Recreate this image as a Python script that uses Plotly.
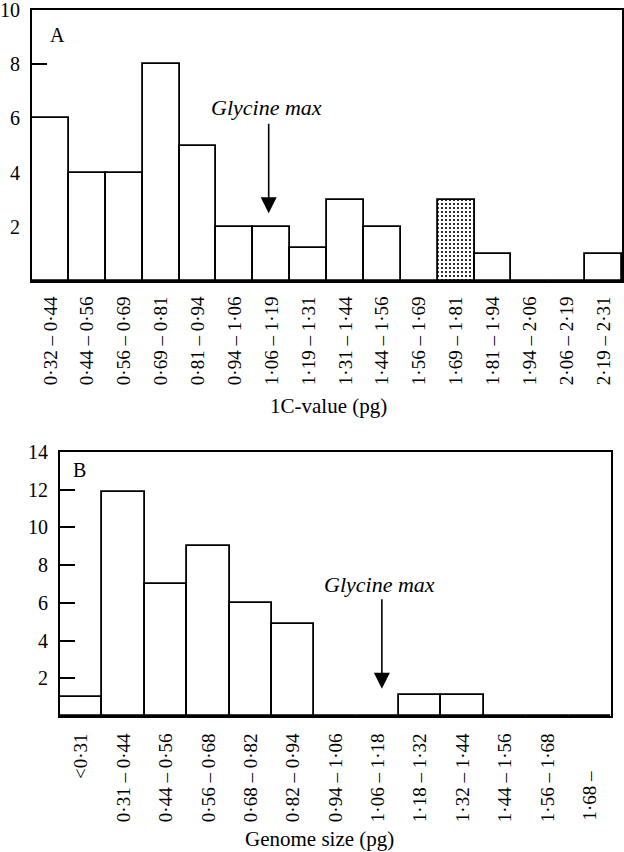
import plotly.graph_objects as go

W, H = 624, 852

# ---- Panel A data ----
a_bins = ["0·32 – 0·44", "0·44 – 0·56", "0·56 – 0·69", "0·69 – 0·81",
          "0·81 – 0·94", "0·94 – 1·06", "1·06 – 1·19", "1·19 – 1·31",
          "1·31 – 1·44", "1·44 – 1·56", "1·56 – 1·69", "1·69 – 1·81",
          "1·81 – 1·94", "1·94 – 2·06", "2·06 – 2·19", "2·19 – 2·31"]
a_counts = [6, 4, 4, 8, 5, 2, 2, 1.2, 3, 2, 0, 3, 1, 0, 0, 1]
a_highlight = "1·69 – 1·81"
a_marker_bin = "1·06 – 1·19"
a_yticks = [2, 4, 6, 8, 10]

# ---- Panel B data ----
b_bins = ["<0·31", "0·31 – 0·44", "0·44 – 0·56", "0·56 – 0·68",
          "0·68 – 0·82", "0·82 – 0·94", "0·94 – 1·06", "1·06 – 1·18",
          "1·18 – 1·32", "1·32 – 1·44", "1·44 – 1·56", "1·56 – 1·68", "1·68 –"]
b_counts = [1, 11.9, 7, 9, 6, 4.9, 0, 0, 1.1, 1.1, 0, 0, 0]
b_marker_bin = "1·06 – 1·18"
b_yticks = [2, 4, 6, 8, 10, 12, 14]

FONT = "Liberation Serif"
LW = 1.8


def px_x(p):
    return p / W


def px_y(p):
    return 1 - p / H


def ticktext_b(lbl):
    t = lbl.replace("<", "&lt;")
    if lbl.endswith("–"):
        t = t + "\u00a0" * 8
    return t


fig = go.Figure()

fig.add_trace(go.Bar(
    x=a_bins, y=a_counts, xaxis="x", yaxis="y",
    marker=dict(color="white", line=dict(color="black", width=LW),
                pattern=dict(shape=["." if b == a_highlight else "" for b in a_bins],
                             fgcolor="black", bgcolor="white", size=4, solidity=0.22)),
    showlegend=False, hoverinfo="skip",
))

fig.add_trace(go.Bar(
    x=b_bins, y=b_counts, xaxis="x2", yaxis="y2",
    marker=dict(color="white", line=dict(color="black", width=LW)),
    showlegend=False, hoverinfo="skip",
))

axis_common = dict(showline=True, mirror=True, linecolor="black", linewidth=LW,
                   showgrid=False, zeroline=False, layer="below traces",
                   automargin=False, ticklabeloverflow="allow")
xfont = dict(family=FONT, size=19, color="black")
yfont = dict(family=FONT, size=20, color="black")

fig.update_layout(
    template="none",
    width=W, height=H,
    margin=dict(l=0, r=0, t=0, b=0, pad=0),
    paper_bgcolor="white", plot_bgcolor="white",
    bargap=0,
    font=dict(family=FONT, size=20, color="black"),
    xaxis=dict(domain=[px_x(32), px_x(622)], anchor="y", type="category",
               categoryorder="array", categoryarray=a_bins, tickfont=xfont,
               tickangle=-90, ticks="", ticklabelstandoff=6, **axis_common),
    yaxis=dict(domain=[px_y(281), px_y(10)], anchor="x", range=[0, 10],
               tickvals=a_yticks, ticks="inside", ticklen=15, tickwidth=LW,
               tickcolor="black", ticklabelstandoff=6, tickfont=yfont, **axis_common),
    xaxis2=dict(domain=[px_x(60), px_x(611)], anchor="y2", type="category",
                categoryorder="array", categoryarray=b_bins, tickfont=xfont,
                tickvals=b_bins, ticktext=[ticktext_b(b) for b in b_bins],
                tickangle=-90, ticks="", ticklabelstandoff=8, **axis_common),
    yaxis2=dict(domain=[px_y(716), px_y(452)], anchor="x2", range=[0, 14],
                tickvals=b_yticks, ticks="inside", ticklen=15, tickwidth=LW,
                tickcolor="black", ticklabelstandoff=6, tickfont=yfont, **axis_common),
)

ann_font = dict(family=FONT, size=20, color="black")
gm_font = dict(family=FONT, size=22, color="black")
title_font = dict(family=FONT, size=21, color="black")
annotations = [
    dict(text="A", xref="paper", yref="paper", x=px_x(57), y=px_y(35),
         xanchor="center", yanchor="middle", showarrow=False, font=ann_font),
    dict(text="B", xref="paper", yref="paper", x=px_x(79), y=px_y(470),
         xanchor="center", yanchor="middle", showarrow=False, font=ann_font),
    dict(text="1C-value (pg)", xref="paper", yref="paper", x=px_x(328), y=px_y(406),
         xanchor="center", yanchor="middle", showarrow=False, font=title_font),
    dict(text="Genome size (pg)", xref="paper", yref="paper", x=px_x(319), y=px_y(839),
         xanchor="center", yanchor="middle", showarrow=False, font=title_font),
    dict(text="<i>Glycine max</i>", xref="x", yref="y", x=a_marker_bin, y=6.4,
         xshift=-5, xanchor="center", yanchor="middle", showarrow=False, font=gm_font),
    dict(text="", xref="x", yref="y", x=a_marker_bin, y=2.5, xshift=-3,
         showarrow=True, ax=0, ay=-91, arrowhead=2, arrowsize=2.0, arrowwidth=1.6,
         arrowcolor="black"),
    dict(text="<i>Glycine max</i>", xref="x2", yref="y2", x=b_marker_bin, y=7.0,
         xshift=2, xanchor="center", yanchor="middle", showarrow=False, font=gm_font),
    dict(text="", xref="x2", yref="y2", x=b_marker_bin, y=1.45, xshift=4,
         showarrow=True, ax=0, ay=-91, arrowhead=2, arrowsize=2.0, arrowwidth=1.6,
         arrowcolor="black"),
]
fig.update_layout(annotations=annotations)

fig.write_html("out.html", config={"displayModeBar": False},
               post_script="document.body.style.margin='0';document.body.style.padding='0';")
